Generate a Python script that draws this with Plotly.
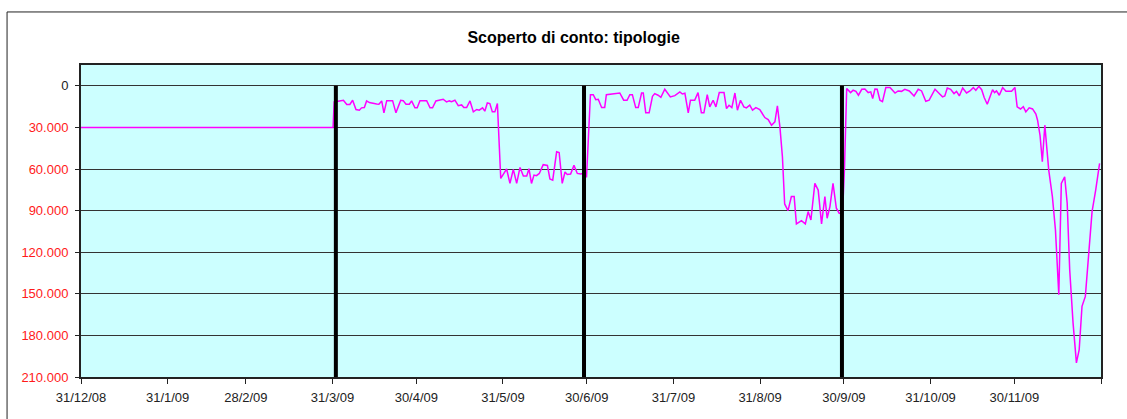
import pandas as pd
import plotly.graph_objects as go

# giorni dal 31/12/2008 e scoperto (importo positivo, disegnato verso il basso)
giorni = [0, 90.2, 90.6, 92.1, 93.9, 95.1, 96.2, 97.2, 98.4, 99.6, 100.4, 101.4, 102.2, 103.2, 104.4,
          105.8, 106.6, 107.6, 108.4, 109.4, 111.5, 112.7, 113.5, 114.4, 115.3, 116.3, 117.5, 118.3,
          119.5, 120.3, 121.3, 123.7, 124.9, 125.8, 127.0, 128.4, 129.6, 130.8, 131.8, 132.6, 133.8,
          135.0, 136.2, 137.0, 138.0, 139.2, 140.4, 141.6, 142.5, 143.7, 144.5, 145.4, 146.3, 147.2,
          148.1, 149.0, 150.2, 151.1, 152.3, 153.5, 154.7, 155.9, 157.1, 158.3, 159.5, 160.3, 161.2,
          162.1, 163.0, 164.0, 165.4, 166.9, 167.8, 168.8, 170.2, 171.1, 172.2, 173.2, 174.0, 175.2,
          176.4, 177.6, 178.8, 179.7, 180.9, 182.3, 183.3, 184.2, 185.1, 186.3, 187.4, 188.0, 191.4,
          192.8, 194.2, 195.4, 196.4, 197.3, 198.5, 199.4, 200.6, 201.2, 202.1, 203.3, 204.5, 205.3,
          206.5, 207.5, 208.9, 209.7, 210.9, 212.5, 214.3, 215.2, 216.1, 217.3, 218.1, 219.6, 220.8,
          222.0, 222.9, 224.1, 225.0, 226.2, 227.2, 228.4, 230.1, 231.0, 231.9, 232.9, 234.0, 234.9,
          236.0, 237.2, 238.1, 239.3, 240.3, 241.5, 242.9, 244.7, 245.9, 247.1, 248.3, 249.2, 250.1,
          251.0, 251.8, 253.0, 254.2, 255.2, 256.0, 257.8, 259.2, 260.2, 261.2, 262.6, 263.8, 265.0,
          266.2, 267.0, 268.0, 269.1, 270.3, 271.3, 272.5, 273.2, 274.0, 275.4, 276.3, 277.3, 278.2,
          279.4, 280.5, 281.7, 282.6, 283.3, 284.1, 284.9, 285.9, 286.8, 288.0, 289.5, 291.3, 292.4,
          293.6, 294.8, 296.4, 298.1, 299.6, 300.8, 302.3, 303.5, 305.6, 307.1, 308.3, 309.1, 310.0,
          311.2, 312.4, 313.3, 314.3, 315.5, 316.9, 318.1, 319.3, 320.2, 321.3, 322.3, 323.2, 324.3,
          325.2, 326.2, 326.9, 327.6, 328.6, 329.8, 331.0, 333.0, 334.2, 335.0, 336.2, 337.2, 338.1,
          339.3, 340.5, 341.7, 342.3, 343.2, 344.0, 344.9, 346.3, 347.6, 348.7, 349.9, 350.8, 352.0,
          352.9, 353.8, 355.0, 356.2, 357.2, 358.2, 359.4, 360.6, 361.8, 363.1, 364.5]
scoperto = [30000, 30000, 11600, 10900, 10400, 13500, 13500, 10400, 17100, 17600, 15900, 15700, 10900,
            12100, 12800, 13100, 13300, 10900, 19500, 10700, 10700, 19500, 15200, 10400, 10700, 13300,
            13300, 10900, 15900, 15900, 10700, 10700, 15900, 15900, 10900, 10400, 9700, 11600, 10900,
            11400, 10400, 14300, 13800, 15700, 15700, 10900, 18800, 17100, 17600, 15900, 18300, 12400,
            12800, 18800, 18800, 12800, 66800, 63900, 60000, 70400, 60300, 70400, 58900, 65100, 65100,
            59800, 70400, 64400, 64800, 63200, 56900, 57400, 67200, 68000, 47600, 48100, 70400, 62200,
            63900, 63600, 57400, 63200, 63600, 63200, 66000, 6400, 6400, 10000, 9700, 15700, 15700, 6400,
            5600, 5200, 10400, 10400, 6400, 6400, 15700, 15700, 5200, 5200, 19500, 19500, 7600, 5600,
            6800, 8300, 2500, 4900, 8000, 7100, 4400, 5900, 5400, 19500, 10400, 10400, 4900, 19500,
            19500, 6400, 15200, 10400, 15200, 4900, 4900, 16400, 14000, 15700, 5200, 17600, 10400, 15200,
            15900, 14000, 17600, 15700, 17100, 22900, 24300, 28400, 26000, 14500, 29600, 51200, 85200,
            90000, 79900, 79900, 99600, 97200, 99600, 90700, 96700, 70400, 75200, 99600, 79900, 95500,
            87100, 70400, 88300, 91900, 92000, 60000, 2000, 4900, 3200, 4000, 6800, 2500, 2300, 4900,
            4400, 9200, 2300, 2500, 10400, 11400, 1300, 1300, 5200, 3700, 4000, 2500, 3700, 7300, 2500,
            3700, 11200, 10400, 2500, 5600, 8000, 7300, 1600, 2500, 5600, 4000, 7300, 1600, 5200, 3700,
            1300, 3200, 400, 2800, 8500, 13300, 8500, 2800, 4900, 3700, 6800, 1300, 4000, 4000, 1200,
            15200, 16700, 15000, 18800, 15900, 16700, 20400, 24800, 36000, 54700, 28400, 60800, 79900,
            103900, 150600, 70400, 65600, 84700, 132700, 171000, 199800, 190200, 159000, 151900, 123100,
            90700, 75200, 56000]

# separatori trimestrali (giorni dal 31/12/2008)
separatori = [91.2, 180.0, 272.3]

x_ticks = ["2008-12-31", "2009-01-31", "2009-02-28", "2009-03-31", "2009-04-30", "2009-05-31",
           "2009-06-30", "2009-07-31", "2009-08-31", "2009-09-30", "2009-10-31", "2009-11-30",
           "2009-12-31"]
x_labels = ["31/12/08", "31/1/09", "28/2/09", "31/3/09", "30/4/09", "31/5/09", "30/6/09",
            "31/7/09", "31/8/09", "30/9/09", "31/10/09", "30/11/09", ""]
y_ticks = [0, 30000, 60000, 90000, 120000, 150000, 180000, 210000]
y_labels = ["0", "30.000", "60.000", "90.000", "120.000", "150.000", "180.000", "210.000"]

start = pd.Timestamp("2008-12-31")
date = start + pd.to_timedelta(giorni, unit="D")
date_sep = start + pd.to_timedelta(separatori, unit="D")

fig = go.Figure()
fig.add_trace(go.Scatter(x=date, y=[-v for v in scoperto], mode="lines",
                         line=dict(color="#ff00ff", width=1.5), showlegend=False))

for d in date_sep:
    fig.add_shape(type="line", xref="x", yref="y", x0=d, x1=d, y0=0, y1=-max(y_ticks),
                  line=dict(color="black", width=4))

# cornice esterna del grafico
fig.add_shape(type="rect", xref="paper", yref="paper", x0=-0.0725, x1=1.05, y0=-0.2, y1=1.17,
              line=dict(color="#222", width=1), layer="below")

ytext = [t if v == 0 else '<span style="color:#ff1a1a">%s</span>' % t for v, t in zip(y_ticks, y_labels)]

fig.update_layout(
    width=1127, height=419,
    margin=dict(l=81, r=26, t=65, b=42),
    paper_bgcolor="white", plot_bgcolor="#ccffff",
    font=dict(family="Liberation Sans, Arial, sans-serif", size=13, color="#222"),
    title=dict(text="<b>Scoperto di conto: tipologie</b>", x=0.509, xref="container",
               y=1 - 37 / 419, yref="container", xanchor="center", yanchor="middle",
               font=dict(size=16, color="black")),
    xaxis=dict(range=["2008-12-31", "2009-12-31"], tickvals=x_ticks, ticktext=x_labels,
               ticks="outside", ticklen=5, tickcolor="#222", showgrid=False, ticklabelstandoff=2,
               showline=True, linecolor="#222", linewidth=2, mirror=True, zeroline=False),
    yaxis=dict(range=[-210000, 15000], tickvals=[-v for v in y_ticks], ticktext=ytext,
               ticks="outside", ticklen=4, tickcolor="#222", showgrid=True, gridcolor="#333",
               gridwidth=1, showline=True, linecolor="#222", linewidth=2, mirror=True,
               zeroline=False, ticklabelstandoff=4),
)

fig.write_html("out.html", config={"displayModeBar": False},
               post_script="document.body.style.margin='0';")
